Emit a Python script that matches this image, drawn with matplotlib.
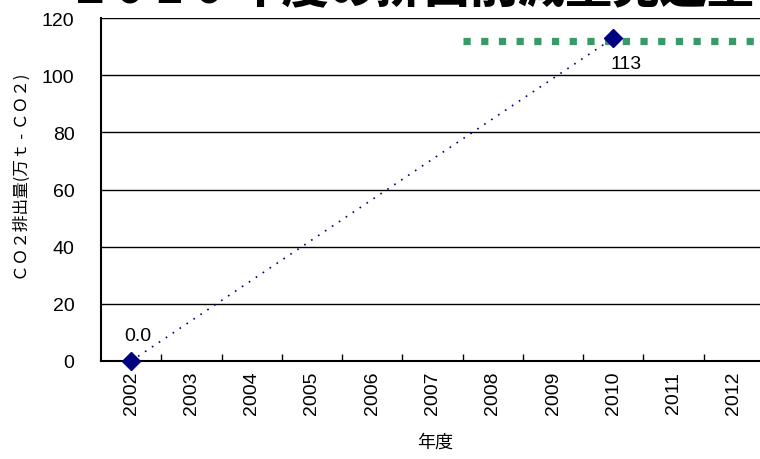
import matplotlib
matplotlib.use("Agg")
import matplotlib.pyplot as plt
from matplotlib.ticker import FixedLocator

plt.rcParams['font.family'] = ['Liberation Sans', 'Noto Sans CJK JP', 'DejaVu Sans']

years = ['2002', '2003', '2004', '2005', '2006', '2007',
         '2008', '2009', '2010', '2011', '2012']
emis_years = ['2002', '2010']
emis_values = [0.0, 113]
emis_labels = ['0.0', '113']
target_value = 112
target_years = ['2008', '2012']
y_ticks = [0, 20, 40, 60, 80, 100, 120]

title = '2 0 1 0 年度の排出削減量見込量'
ylabel = 'ＣＯ２排出量(万ｔ - ＣＯ２)'
xlabel = '年度'

fig = plt.figure(figsize=(7.6, 4.6), dpi=100)
ax = fig.add_axes([101 / 760, 1 - 362 / 460, 663 / 760, 343 / 460])

xpos = [years.index(y) for y in emis_years]

# target line (green squares) covering the 2008-2012 slots
t0 = years.index(target_years[0]) - 0.5
t1 = years.index(target_years[1]) + 0.5
ax.plot([t0, t1], [target_value, target_value],
        color='#379a68', lw=5.2, linestyle=(0, (1.0, 1.45)), zorder=2,
        solid_capstyle='butt', dash_capstyle='butt')

# emission series
ax.plot(xpos, emis_values, color='#000080', lw=1.2, linestyle=(0, (1, 4)),
        marker='D', markersize=9, markerfacecolor='#000080',
        markeredgecolor='#000080', zorder=3, clip_on=False)

offsets = [(5, 18), (9, -18)]
for x, v, lab, off in zip(xpos, emis_values, emis_labels, offsets):
    ax.annotate(lab, (x, v), xytext=off, textcoords='offset points',
                ha='center', va='center', fontsize=14)

ax.set_xlim(-0.5, 10.5)
ax.set_ylim(0, 120)
ax.set_yticks(y_ticks)
ax.tick_params(axis='y', length=0, pad=19, labelsize=14)
ax.yaxis.grid(True, color='black', lw=1)
ax.set_axisbelow(True)

ax.set_xticks(range(len(years)))
ax.set_xticklabels(years, rotation=90, fontsize=14)
ax.tick_params(axis='x', which='major', length=0, pad=7)
ax.xaxis.set_minor_locator(FixedLocator([i + 0.5 for i in range(len(years))]))
ax.tick_params(axis='x', which='minor', direction='in', length=5, width=1)

for s in ['top', 'right']:
    ax.spines[s].set_visible(False)
ax.spines['left'].set_linewidth(1.5)
ax.spines['bottom'].set_linewidth(1.5)

fig.text(435 / 760, 1 - 443 / 460, xlabel, ha='center', va='center', fontsize=13,
         family=['Noto Sans CJK JP'])
fig.text(22 / 760, 1 - 177 / 460, ylabel, ha='center', va='center', fontsize=12,
         rotation=90, family=['Noto Sans CJK JP'])
fig.text(76 / 760, 1 - 3 / 460, title, ha='left', va='baseline', fontsize=34,
         fontweight='heavy', family=['Noto Sans CJK JP'])

fig.savefig('out.png', dpi=100)
